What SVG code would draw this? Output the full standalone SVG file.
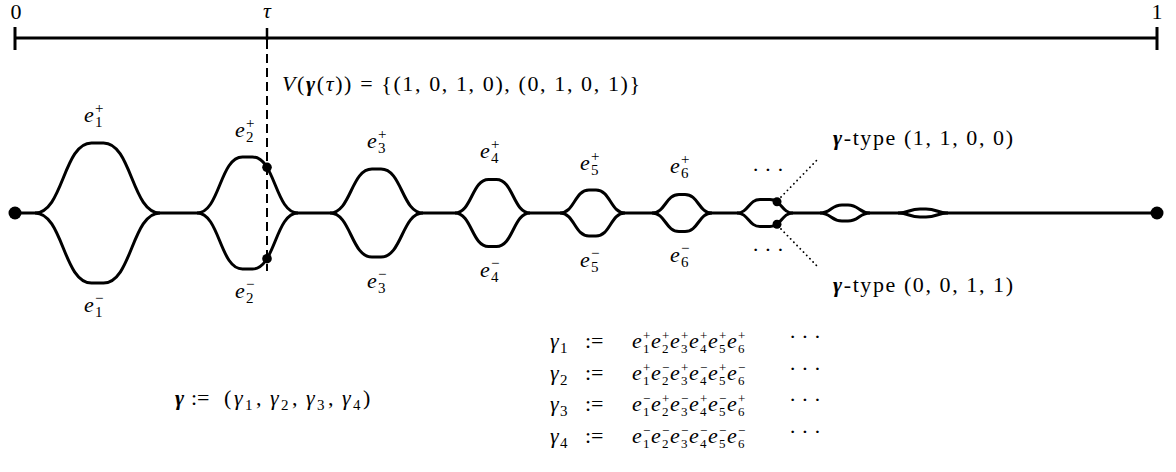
<svg xmlns="http://www.w3.org/2000/svg" width="1176" height="472" viewBox="0 0 1176 472">
<style>
.m { font-family: 'Liberation Serif', 'DejaVu Serif', serif; font-size: 22px; font-style: italic; fill: #000; }
.r { font-family: 'Liberation Serif', 'DejaVu Serif', serif; font-size: 22px; fill: #000; }
.b { font-family: 'Liberation Serif', 'DejaVu Serif', serif; font-size: 22px; font-style: italic; font-weight: bold; fill: #000; }
.s { font-family: 'Liberation Serif', 'DejaVu Serif', serif; font-size: 15px; fill: #000; }
.t { font-family: 'Liberation Serif', 'DejaVu Serif', serif; font-size: 13px; fill: #000; }
.c { text-anchor: middle; }
.edge { fill: none; stroke: #000; stroke-width: 3; stroke-linejoin: round; }
.axis { fill: none; stroke: #000; stroke-width: 3; }
.dash { fill: none; stroke: #000; stroke-width: 2; stroke-dasharray: 9 5; }
.dot { fill: none; stroke: #000; stroke-width: 1.8; stroke-dasharray: 0.1 4.5; stroke-linecap: round; }
.pt { fill: #000; }
</style>

<g id="axis">
  <line class="axis" x1="15" y1="38" x2="1157" y2="38"/>
  <line class="axis" x1="15" y1="27" x2="15" y2="50"/>
  <line class="axis" x1="1157" y1="27" x2="1157" y2="50"/>
  <line x1="267" y1="28" x2="267" y2="40" stroke="#000" stroke-width="2.5"/>
  <text class="r c" x="16" y="19" font-size="20">0</text>
  <text class="m c" x="267" y="18" font-size="20">τ</text>
  <text class="r c" x="1157" y="19" font-size="20">1</text>
</g>

<g id="tau-line">
  <line class="dash" x1="267" y1="40" x2="267" y2="271"/>
</g>

<g id="connectors">
  <path class="edge" d="M15,213 H35 M160,213 H197 M298,213 H330 M423,213 H455 M530,213 H560 M625,213 H652 M712,213 H737 M793,213 H820 M870,213 H898 M948,213 H1157"/>
  <path id="e1p" class="edge" d="M35,213 C63.25,213 63.25,143 91.5,143 L103.5,143 C131.75,143 131.75,213 160,213"/>
  <path id="e1m" class="edge" d="M35,213 C63.25,213 63.25,283 91.5,283 L103.5,283 C131.75,283 131.75,213 160,213"/>
  <path id="e2p" class="edge" d="M197,213 C219.75,213 219.75,157 242.5,157 L252.5,157 C275.25,157 275.25,213 298,213"/>
  <path id="e2m" class="edge" d="M197,213 C219.75,213 219.75,269 242.5,269 L252.5,269 C275.25,269 275.25,213 298,213"/>
  <path id="e3p" class="edge" d="M330,213 C351,213 351,169 372,169 L381,169 C402,169 402,213 423,213"/>
  <path id="e3m" class="edge" d="M330,213 C351,213 351,257 372,257 L381,257 C402,257 402,213 423,213"/>
  <path id="e4p" class="edge" d="M455,213 C471.75,213 471.75,179.5 488.5,179.5 L496.5,179.5 C513.25,179.5 513.25,213 530,213"/>
  <path id="e4m" class="edge" d="M455,213 C471.75,213 471.75,246.5 488.5,246.5 L496.5,246.5 C513.25,246.5 513.25,213 530,213"/>
  <path id="e5p" class="edge" d="M560,213 C574.5,213 574.5,190 589,190 L596,190 C610.5,190 610.5,213 625,213"/>
  <path id="e5m" class="edge" d="M560,213 C574.5,213 574.5,236 589,236 L596,236 C610.5,236 610.5,213 625,213"/>
  <path id="e6p" class="edge" d="M652,213 C665.5,213 665.5,194.5 679,194.5 L685,194.5 C698.5,194.5 698.5,213 712,213"/>
  <path id="e6m" class="edge" d="M652,213 C665.5,213 665.5,231.5 679,231.5 L685,231.5 C698.5,231.5 698.5,213 712,213"/>
  <path class="edge" d="M737,213 C748.5,213 748.5,199.5 760,199.5 L770,199.5 C781.5,199.5 781.5,213 793,213"/>
  <path class="edge" d="M737,213 C748.5,213 748.5,226.5 760,226.5 L770,226.5 C781.5,226.5 781.5,213 793,213"/>
  <path class="edge" d="M820,213 C831,213 831,205 842,205 L848,205 C859,205 859,213 870,213"/>
  <path class="edge" d="M820,213 C831,213 831,221 842,221 L848,221 C859,221 859,213 870,213"/>
  <path class="edge" d="M898,213 C909,213 909,209 920,209 L926,209 C937,209 937,213 948,213"/>
  <path class="edge" d="M898,213 C909,213 909,217 920,217 L926,217 C937,217 937,213 948,213"/>
  <line class="dot" x1="781" y1="197" x2="818" y2="159"/>
  <line class="dot" x1="781" y1="229" x2="818" y2="267"/>
</g>

<g id="points">
  <circle class="pt" cx="15" cy="213" r="6.5"/>
  <circle class="pt" cx="1157" cy="213" r="6.5"/>
  <circle class="pt" cx="267" cy="167.3" r="4.8"/>
  <circle class="pt" cx="267" cy="258.7" r="4.8"/>
  <circle class="pt" cx="777" cy="201.7" r="4.5"/>
  <circle class="pt" cx="777" cy="224.3" r="4.5"/>
</g>

<g id="edge-labels">
  <text class="m" x="84" y="122">e</text><text class="s" x="95" y="113">+</text><text class="s" x="95" y="127">1</text>
  <text class="m" x="84" y="312">e</text><text class="s" x="95" y="303">−</text><text class="s" x="95" y="317">1</text>
  <text class="m" x="235" y="137">e</text><text class="s" x="246" y="128">+</text><text class="s" x="246" y="142">2</text>
  <text class="m" x="235" y="298">e</text><text class="s" x="246" y="289">−</text><text class="s" x="246" y="303">2</text>
  <text class="m" x="367" y="148">e</text><text class="s" x="378" y="139">+</text><text class="s" x="378" y="153">3</text>
  <text class="m" x="367" y="288">e</text><text class="s" x="378" y="279">−</text><text class="s" x="378" y="293">3</text>
  <text class="m" x="480" y="158">e</text><text class="s" x="491" y="149">+</text><text class="s" x="491" y="163">4</text>
  <text class="m" x="480" y="277">e</text><text class="s" x="491" y="268">−</text><text class="s" x="491" y="282">4</text>
  <text class="m" x="580" y="170">e</text><text class="s" x="591" y="161">+</text><text class="s" x="591" y="175">5</text>
  <text class="m" x="580" y="267">e</text><text class="s" x="591" y="258">−</text><text class="s" x="591" y="272">5</text>
  <text class="m" x="670" y="173">e</text><text class="s" x="681" y="164">+</text><text class="s" x="681" y="178">6</text>
  <text class="m" x="670" y="262">e</text><text class="s" x="681" y="253">−</text><text class="s" x="681" y="267">6</text>
  <text class="r" x="752" y="177" letter-spacing="5">···</text>
  <text class="r" x="752" y="257" letter-spacing="5">···</text>
</g>

<g id="v-label">
  <text class="r" x="282" y="91" textLength="358" lengthAdjust="spacing"><tspan font-style="italic">V</tspan>(<tspan font-style="italic" font-weight="bold">γ</tspan>(<tspan font-style="italic">τ</tspan>)) = {(1, 0, 1, 0), (0, 1, 0, 1)}</text>
</g>

<g id="type-labels">
  <text class="r" x="833" y="145" textLength="180" lengthAdjust="spacing"><tspan font-style="italic" font-weight="bold">γ</tspan>-type (1, 1, 0, 0)</text>
  <text class="r" x="833" y="292" textLength="180" lengthAdjust="spacing"><tspan font-style="italic" font-weight="bold">γ</tspan>-type (0, 0, 1, 1)</text>
</g>

<g id="gamma-def">
  <text class="b" x="175" y="405">γ</text>
  <text class="r" x="191" y="405">:=</text>
  <text class="r" x="224" y="405">(</text>
  <text class="m" x="234" y="405">γ</text><text class="s" x="245" y="410">1</text><text class="r" x="256" y="405">,</text>
  <text class="m" x="270" y="405">γ</text><text class="s" x="281" y="410">2</text><text class="r" x="292" y="405">,</text>
  <text class="m" x="306" y="405">γ</text><text class="s" x="317" y="410">3</text><text class="r" x="328" y="405">,</text>
  <text class="m" x="342" y="405">γ</text><text class="s" x="353" y="410">4</text>
  <text class="r" x="363" y="405">)</text>
</g>

<g id="gamma-rows">
  <text class="m" x="550" y="348">γ</text><text class="s" x="560" y="353">1</text>
  <text class="r" x="585" y="348">:=</text>
  <text class="m" x="632" y="348">e</text><text class="t" x="643" y="340">+</text><text class="t" x="643" y="353">1</text>
  <text class="m" x="651" y="348">e</text><text class="t" x="662" y="340">+</text><text class="t" x="662" y="353">2</text>
  <text class="m" x="670" y="348">e</text><text class="t" x="681" y="340">+</text><text class="t" x="681" y="353">3</text>
  <text class="m" x="689" y="348">e</text><text class="t" x="700" y="340">+</text><text class="t" x="700" y="353">4</text>
  <text class="m" x="708" y="348">e</text><text class="t" x="719" y="340">+</text><text class="t" x="719" y="353">5</text>
  <text class="m" x="727" y="348">e</text><text class="t" x="738" y="340">+</text><text class="t" x="738" y="353">6</text>
  <text class="r" x="789" y="344" letter-spacing="5">···</text>
  <text class="m" x="550" y="379.5">γ</text><text class="s" x="560" y="384.5">2</text>
  <text class="r" x="585" y="379.5">:=</text>
  <text class="m" x="632" y="379.5">e</text><text class="t" x="643" y="371.5">+</text><text class="t" x="643" y="384.5">1</text>
  <text class="m" x="651" y="379.5">e</text><text class="t" x="662" y="371.5">−</text><text class="t" x="662" y="384.5">2</text>
  <text class="m" x="670" y="379.5">e</text><text class="t" x="681" y="371.5">+</text><text class="t" x="681" y="384.5">3</text>
  <text class="m" x="689" y="379.5">e</text><text class="t" x="700" y="371.5">−</text><text class="t" x="700" y="384.5">4</text>
  <text class="m" x="708" y="379.5">e</text><text class="t" x="719" y="371.5">+</text><text class="t" x="719" y="384.5">5</text>
  <text class="m" x="727" y="379.5">e</text><text class="t" x="738" y="371.5">−</text><text class="t" x="738" y="384.5">6</text>
  <text class="r" x="789" y="375.5" letter-spacing="5">···</text>
  <text class="m" x="550" y="411">γ</text><text class="s" x="560" y="416">3</text>
  <text class="r" x="585" y="411">:=</text>
  <text class="m" x="632" y="411">e</text><text class="t" x="643" y="403">−</text><text class="t" x="643" y="416">1</text>
  <text class="m" x="651" y="411">e</text><text class="t" x="662" y="403">+</text><text class="t" x="662" y="416">2</text>
  <text class="m" x="670" y="411">e</text><text class="t" x="681" y="403">−</text><text class="t" x="681" y="416">3</text>
  <text class="m" x="689" y="411">e</text><text class="t" x="700" y="403">+</text><text class="t" x="700" y="416">4</text>
  <text class="m" x="708" y="411">e</text><text class="t" x="719" y="403">−</text><text class="t" x="719" y="416">5</text>
  <text class="m" x="727" y="411">e</text><text class="t" x="738" y="403">+</text><text class="t" x="738" y="416">6</text>
  <text class="r" x="789" y="407" letter-spacing="5">···</text>
  <text class="m" x="550" y="442.5">γ</text><text class="s" x="560" y="447.5">4</text>
  <text class="r" x="585" y="442.5">:=</text>
  <text class="m" x="632" y="442.5">e</text><text class="t" x="643" y="434.5">−</text><text class="t" x="643" y="447.5">1</text>
  <text class="m" x="651" y="442.5">e</text><text class="t" x="662" y="434.5">−</text><text class="t" x="662" y="447.5">2</text>
  <text class="m" x="670" y="442.5">e</text><text class="t" x="681" y="434.5">−</text><text class="t" x="681" y="447.5">3</text>
  <text class="m" x="689" y="442.5">e</text><text class="t" x="700" y="434.5">−</text><text class="t" x="700" y="447.5">4</text>
  <text class="m" x="708" y="442.5">e</text><text class="t" x="719" y="434.5">−</text><text class="t" x="719" y="447.5">5</text>
  <text class="m" x="727" y="442.5">e</text><text class="t" x="738" y="434.5">−</text><text class="t" x="738" y="447.5">6</text>
  <text class="r" x="789" y="438.5" letter-spacing="5">···</text>
</g>
</svg>
